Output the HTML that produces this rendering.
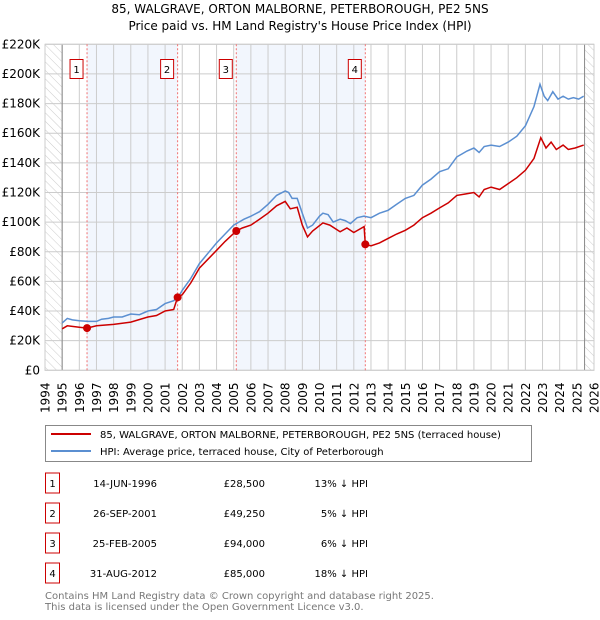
<!DOCTYPE html>
<html><head><meta charset="utf-8"><style>
body{margin:0;background:#fff;font-family:"Liberation Sans","DejaVu Sans",sans-serif;}
svg{display:block}
</style></head><body>
<svg width="600" height="620" xmlns="http://www.w3.org/2000/svg" font-family="DejaVu Sans, Liberation Sans, sans-serif">
<defs><pattern id="hatch" width="6" height="6" patternUnits="userSpaceOnUse" patternTransform="rotate(-45)"><line x1="0" y1="0" x2="0" y2="6" stroke="#ccc" stroke-width="1"/></pattern></defs>
<text x="300" y="13" text-anchor="middle" font-size="12">85, WALGRAVE, ORTON MALBORNE, PETERBOROUGH, PE2 5NS</text>
<text x="300" y="30" text-anchor="middle" font-size="12">Price paid vs. HM Land Registry's House Price Index (HPI)</text>
<g id="plot"></g>
<g id="legend">
<rect x="45.5" y="425.5" width="486" height="36" fill="#fff" stroke="#888"/>
<line x1="51" y1="434" x2="91" y2="434" stroke="#cc0000" stroke-width="2"/>
<text x="100" y="438" font-size="10">85, WALGRAVE, ORTON MALBORNE, PETERBOROUGH, PE2 5NS (terraced house)</text>
<line x1="51" y1="451" x2="91" y2="451" stroke="#5b8fd1" stroke-width="2"/>
<text x="100" y="455" font-size="10">HPI: Average price, terraced house, City of Peterborough</text>
</g>
<g id="table" font-size="10"></g>
<text x="45" y="599" font-size="10" fill="#777">Contains HM Land Registry data © Crown copyright and database right 2025.</text>
<text x="45" y="610" font-size="10" fill="#777">This data is licensed under the Open Government Licence v3.0.</text>
</svg>
<script>
const hpiYears=[1995,1995.3,1995.6,1996,1996.5,1997,1997.3,1997.7,1998,1998.5,1999,1999.5,2000,2000.5,2001,2001.5,2001.8,2002,2002.5,2003,2003.5,2004,2004.5,2005,2005.3,2005.6,2006,2006.5,2007,2007.5,2008,2008.2,2008.4,2008.7,2009,2009.3,2009.6,2010,2010.2,2010.5,2010.8,2011.2,2011.5,2011.8,2012.2,2012.6,2013,2013.5,2014,2014.5,2015,2015.5,2016,2016.5,2017,2017.5,2018,2018.3,2018.6,2019,2019.3,2019.6,2020,2020.5,2021,2021.5,2022,2022.5,2022.85,2023.1,2023.3,2023.6,2023.9,2024.2,2024.5,2024.8,2025.1,2025.4];
const hpiValues=[32,35,34,33.5,33,33,34.5,35,36,36,38,37.5,40,41,45,47,50,54,62,72,79,86,92,98,100,102,104,107,112,118,121,120,116,116,106,96,98,104,106,105,100,102,101,99,103,104,103,106,108,112,116,118,125,129,134,136,144,146,148,150,147,151,152,151,154,158,165,178,193,185,182,188,183,185,183,184,183,185];
const ppYears=[1995,1995.3,1996,1996.45,1997,1998,1999,2000,2000.5,2001,2001.5,2001.73,2002,2002.5,2003,2003.5,2004,2004.5,2005.15,2005.5,2006,2006.5,2007,2007.5,2008,2008.3,2008.7,2009,2009.3,2009.6,2010.2,2010.6,2011.2,2011.6,2012,2012.6,2012.67,2013,2013.5,2014,2014.5,2015,2015.5,2016,2016.5,2017,2017.5,2018,2018.5,2019,2019.3,2019.6,2020,2020.5,2021,2021.5,2022,2022.5,2022.9,2023.2,2023.5,2023.8,2024.2,2024.5,2024.9,2025.4];
const ppValues=[28,30,29,28.5,30,31,32.5,36,37,40,41,49.25,51,59,69,75,81,87,94,96,98,102,106,111,114,109,110,98,90,94,99.5,98,93.5,96,93,97,85,84,86,89,92,94.5,98,103,106,109.6,113,118,119,120,117,122,123.6,122,126,130,135,143,157,150,154,149,152,149,150,152];
const saleLabels=["1","2","3","4"];
const saleYears=[1996.45,2001.73,2005.15,2012.67];
const saleValues=[28.5,49.25,94,85];
const saleDates=["14-JUN-1996","26-SEP-2001","25-FEB-2005","31-AUG-2012"];
const salePrices=["£28,500","£49,250","£94,000","£85,000"];
const salePcts=["13% ↓ HPI","5% ↓ HPI","6% ↓ HPI","18% ↓ HPI"];
const yTicks=[0,20,40,60,80,100,120,140,160,180,200,220];
const xTicks=[];for(let y=1994;y<=2026;y++)xTicks.push(y);

const NS="http://www.w3.org/2000/svg";
const X0=45,X1=594,Y0=370.3,Y1=44.3;
const xs=y=>X0+(y-1994)/(2026-1994)*(X1-X0);
const ys=v=>Y0-v/220*(Y0-Y1);
function mk(tag,attrs,parent){const e=document.createElementNS(NS,tag);for(const k in attrs)e.setAttribute(k,attrs[k]);parent.appendChild(e);return e;}
const g=document.getElementById('plot');
[[0,1],[2,3]].forEach(([a,b],i)=>{
 const r=mk('rect',{x:xs(saleYears[a]),y:Y1,width:xs(saleYears[b])-xs(saleYears[a]),height:Y0-Y1,fill:'#eef3fc',opacity:0.75},g);
 
 
});
let h1=mk('rect',{x:X0,y:Y1,width:xs(1995)-X0,height:Y0-Y1,fill:'url(#hatch)'},g);


let h2=mk('rect',{x:xs(2025.45),y:Y1,width:X1-xs(2025.45),height:Y0-Y1,fill:'url(#hatch)'},g);


yTicks.forEach(v=>{
 const l=mk('line',{x1:X0,x2:X1,y1:ys(v),y2:ys(v),stroke:'#ccc','stroke-width':1},g);
 
 
 const t=mk('text',{x:40,y:ys(v)+4,'text-anchor':'end','font-size':12},g);
 t.textContent=v===0?'£0':'£'+v+'K';
 
 
});
xTicks.forEach(y=>{
 const l=mk('line',{x1:xs(y),x2:xs(y),y1:Y1,y2:Y0,stroke:'#ccc','stroke-width':1},g);
 
 
 const t=mk('text',{x:0,y:0,'font-size':12,transform:`translate(${xs(y)+4.5},413) rotate(-90)`},g);
 t.textContent=y;
 
 
});
let vl=mk('line',{x1:xs(1995),x2:xs(1995),y1:Y1,y2:Y0,stroke:'#888'},g);


let vl2=mk('line',{x1:xs(2025.45),x2:xs(2025.45),y1:Y1,y2:Y0,stroke:'#888'},g);


let fr=mk('rect',{x:X0,y:Y1,width:X1-X0,height:Y0-Y1,fill:'none',stroke:'#ccc'},g);


saleYears.forEach((y,i)=>{
 const l=mk('line',{x1:xs(y),x2:xs(y),y1:Y1,y2:Y0,stroke:'#f07070','stroke-dasharray':'2,2'},g);
 
 
});
function path(xa,va,color,name){
 const p=mk('path',{d:xa.map((x,i)=>(i?'L':'M')+xs(x).toFixed(1)+','+ys(va[i]).toFixed(1)).join(''),fill:'none',stroke:color,'stroke-width':1.5},g);
 
 
}
path(hpiYears,hpiValues,'#5b8fd1','hpi-line');
path(ppYears,ppValues,'#cc0000','price-paid-line');
saleYears.forEach((y,i)=>{
 const c=mk('circle',{cx:xs(y),cy:ys(saleValues[i]),r:4,fill:'#cc0000'},g);
 
 
 const b=mk('rect',{x:xs(y)-17,y:59.5,width:13,height:19,fill:'#fff',stroke:'#cc0000'},g);
 
 
 const t=mk('text',{x:xs(y)-10.5,y:73,'text-anchor':'middle','font-size':10},g);
 t.textContent=saleLabels[i];
 
 
});
const tb=document.getElementById('table');
saleLabels.forEach((s,i)=>{
 const cy=483+i*30;
 const r=mk('rect',{x:45.5,y:cy-10,width:14,height:20,fill:'#fff',stroke:'#cc0000'},tb);
 
 
 const cells=[[52.5,'middle',s],[157,'end',saleDates[i]],[265,'end',salePrices[i]],[368,'end',salePcts[i]]];
 cells.forEach(([x,a,txt])=>{
  const t=mk('text',{x:x,y:cy+4,'text-anchor':a,'font-size':10},tb);
  t.textContent=txt;
  
  
 });
});
</script>
</body></html>
